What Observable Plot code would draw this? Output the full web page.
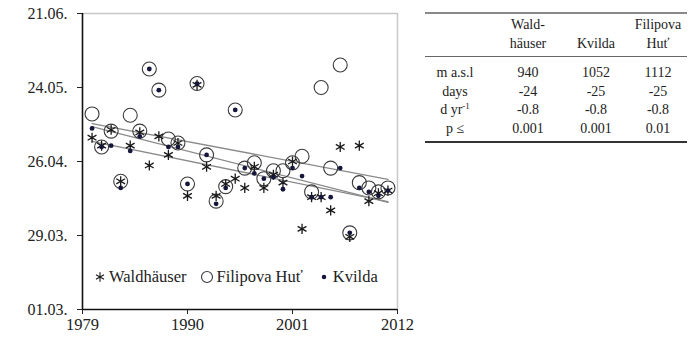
<!DOCTYPE html>
<html>
<head>
<meta charset="utf-8">
<script src="https://cdn.jsdelivr.net/npm/d3@7"></script>
<script src="https://cdn.jsdelivr.net/npm/@observablehq/plot@0.6"></script>
<style>
  html, body { margin: 0; padding: 0; background: #fff; }
  #wrap { position: relative; width: 693px; height: 340px; background: #fff; font-family: "Liberation Serif", "Times New Roman", "DejaVu Serif", serif; color: #222; }
  #chart { position: absolute; left: 0; top: 0; }
  #legend { position: absolute; left: 93px; top: 267px; display: flex; align-items: center; font-size: 16.5px; white-space: nowrap; }
  #legend .item { display: flex; align-items: center; margin-right: 14px; }
  #legend svg { margin-right: 2px; }
  #tbl { position: absolute; left: 425px; top: 12px; width: 262px; border-collapse: collapse; table-layout: fixed; font-size: 14px; }
  #tbl td, #tbl th { text-align: center; font-weight: normal; padding: 0; line-height: 18.7px; white-space: nowrap; }
  #tbl .c1 { padding-left: 6px; }
  #tbl .c3 { padding-left: 2px; }
  #tbl thead th { vertical-align: bottom; padding-top: 1px; padding-bottom: 3px; line-height: 19px; }
  #tbl tbody tr:first-child td { padding-top: 7px; }
  #tbl tbody tr:last-child td { padding-bottom: 2px; }
  #tbl thead tr { border-top: 2px solid #888; border-bottom: 1px solid #666; }
  #tbl tbody tr:last-child { border-bottom: 2px solid #333; }
  #tbl sup { font-size: 9px; line-height: 0; vertical-align: 5px; }
</style>
</head>
<body>
<div id="wrap">
  <div id="chart"></div>
  <div id="legend"></div>
  <table id="tbl">
    <colgroup><col style="width:60px"><col style="width:80px"><col style="width:62px"><col style="width:60px"></colgroup>
    <thead></thead><tbody></tbody>
  </table>
</div>
<script>
// ---- data (day of year; 01.03. = 60) ----
const years = [1980,1981,1982,1983,1984,1985,1986,1987,1988,1989,1990,1991,1992,1993,1994,1995,
               1996,1997,1998,1999,2000,2001,2002,2003,2004,2005,2006,2007,2008,2009,2010,2011];
const waldhauser = [125,122,128,108.5,122,127,114.5,125.5,118.5,123,103,145,114,103,107.5,109.5,
                    106,114,106,111,108,116,90.5,102.5,102.5,97.5,121.5,87.5,122,101,104,105];
const filipova   = [134,121.5,127.5,108.5,133.5,127.5,151,143,124.5,123,107.5,145.5,118.5,101,106.5,135.5,
                    113.5,115.5,109.5,112.5,112.5,115.5,118,104.5,144,113.5,152.5,89,108,106,104.5,106];
const kvilda     = [128.5,121.5,122,106,120,125.5,151,143,121.5,121.5,107.5,145.5,118.5,100,106,135.5,
                    113.5,111.5,109.5,110,105.5,113.5,110.5,102.5,102.5,102.5,113.5,89,106,104.5,103,105];

const seriesNames = ["Waldhäuser", "Filipova Huť", "Kvilda"];
const yTickDays   = [60, 88, 116, 144, 172];
const yTickLabels = ["01.03.", "29.03.", "26.04.", "24.05.", "21.06."];
const xTicks      = [1979, 1990, 2001, 2012];

// table
const tableHeaders = [["Wald-", "häuser"], ["Kvilda"], ["Filipova", "Huť"]];
const rowLabels    = ["m a.s.l", "days", "d yr<sup>-1</sup>", "p ≤"];
const elevation    = ["940", "1052", "1112"];
const daysChange   = ["-24", "-25", "-25"];
const ratePerYear  = ["-0.8", "-0.8", "-0.8"];
const pValues      = ["0.001", "0.001", "0.01"];

const mk = arr => years.map((y, i) => ({year: y, doy: arr[i]}));
const W = mk(waldhauser), F = mk(filipova), K = mk(kvilda);

const FONT = "'Liberation Serif', 'Times New Roman', 'DejaVu Serif', serif";

const chart = Plot.plot({
  width: 422, height: 340,
  marginLeft: 82, marginRight: 25, marginTop: 13, marginBottom: 31,
  style: {fontFamily: FONT, fontSize: "16px", color: "#222", background: "transparent"},
  x: {domain: [1979, 2012], label: null},
  y: {domain: [60, 172], label: null},
  marks: [
    Plot.ruleY([172], {stroke: "#c8c8c8", strokeWidth: 1.5}),
    Plot.ruleX([2012], {stroke: "#c8c8c8", strokeWidth: 1.5}),
    Plot.linearRegressionY(W, {x: "year", y: "doy", ci: 0, stroke: "#8a8a8a", strokeWidth: 1.3}),
    Plot.linearRegressionY(F, {x: "year", y: "doy", ci: 0, stroke: "#8a8a8a", strokeWidth: 1.3}),
    Plot.linearRegressionY(K, {x: "year", y: "doy", ci: 0, stroke: "#8a8a8a", strokeWidth: 1.3}),
    Plot.dot(F, {x: "year", y: "doy", symbol: "circle", r: 7, stroke: "#3a3a3a", strokeWidth: 1.1, fill: "none"}),
    Plot.dot(W, {x: "year", y: "doy", symbol: "asterisk", r: 4.8, stroke: "#1a1a1a", strokeWidth: 1.3}),
    Plot.dot(K, {x: "year", y: "doy", symbol: "circle", r: 2.4, fill: "#16163a", stroke: "none"}),
    Plot.axisY({ticks: yTickDays, tickFormat: d => yTickLabels[yTickDays.indexOf(d)], tickSize: 5, tickPadding: 10, fontSize: 16, label: null}),
    Plot.axisX({ticks: xTicks, tickFormat: d => String(d), tickSize: 5, tickPadding: 4, fontSize: 16.5, label: null}),
    Plot.ruleX([1979], {stroke: "#111", strokeWidth: 1.6}),
    Plot.ruleY([60], {stroke: "#111", strokeWidth: 1.6})
  ]
});
document.getElementById("chart").appendChild(chart);

// legend
const legend = document.getElementById("legend");
const symbols = [
  {type: d3.symbolAsterisk, size: 60, fill: "none", stroke: "#1a1a1a"},
  {type: d3.symbolCircle, size: 95, fill: "none", stroke: "#3a3a3a"},
  {type: d3.symbolCircle, size: 16, fill: "#16163a", stroke: "none"}
];
seriesNames.forEach((name, i) => {
  const s = symbols[i];
  const item = document.createElement("span");
  item.className = "item";
  const sv = d3.create("svg").attr("width", 14).attr("height", 14);
  sv.append("path").attr("transform", "translate(7,7)")
    .attr("d", d3.symbol(s.type, s.size)()).attr("fill", s.fill).attr("stroke", s.stroke).attr("stroke-width", 1.1);
  item.appendChild(sv.node());
  const t = document.createElement("span");
  t.textContent = name;
  item.appendChild(t);
  legend.appendChild(item);
});

// table
const thead = document.querySelector("#tbl thead");
const hr = document.createElement("tr");
hr.innerHTML = "<th></th>" + tableHeaders.map((h, i) => `<th class="c${i + 1}">${h.join("<br>")}</th>`).join("");
thead.appendChild(hr);
const tbody = document.querySelector("#tbl tbody");
[elevation, daysChange, ratePerYear, pValues].forEach((row, r) => {
  const tr = document.createElement("tr");
  tr.innerHTML = `<td>${rowLabels[r]}</td>` + row.map((v, i) => `<td class="c${i + 1}">${v}</td>`).join("");
  tbody.appendChild(tr);
});
</script>
</body>
</html>
